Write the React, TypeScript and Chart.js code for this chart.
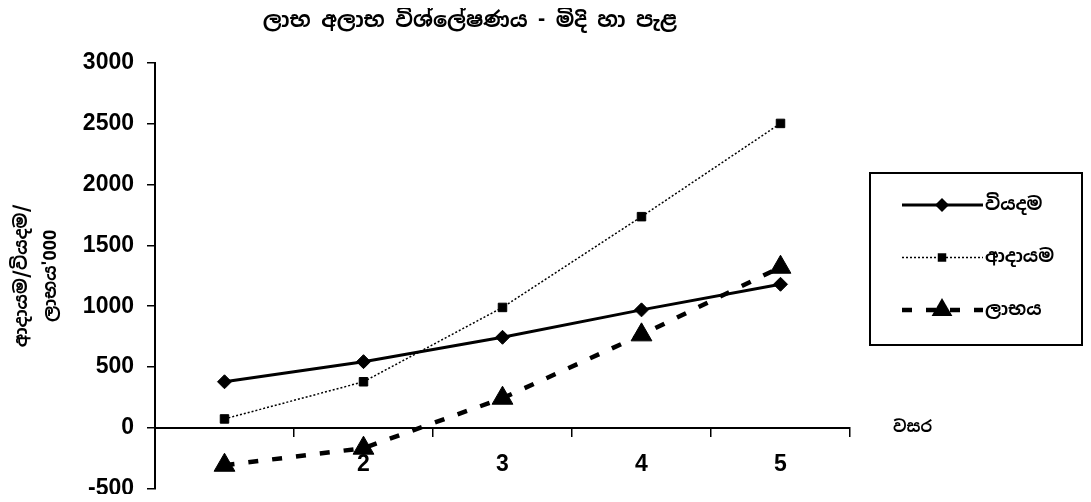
import React, { useEffect, useRef } from 'react';
import { Chart, registerables } from 'chart.js';

Chart.register(...registerables);

const TITLE = 'ලාභ අලාභ විශ්ලේෂණය - මිදි හා පැළ';
const Y_TITLE = ['ආදායම/වියදම/', "ලාභය'000"];
const X_TITLE = 'වසර';
const YEARS = ['1', '2', '3', '4', '5'];
const SERIES_LABELS = ['වියදම', 'ආදායම', 'ලාභය'];
const EXPENSES = [380, 545, 745, 970, 1180];
const INCOME = [75, 380, 990, 1735, 2500];
const PROFIT = [-305, -165, 245, 765, 1320];
const Y_MIN = -500;
const Y_MAX = 3000;
const Y_STEP = 500;

const SIN_FONT = "'Noto Sans Sinhala', 'Noto Serif Sinhala', 'Iskoola Pota', 'Noto Sans', sans-serif";
const NUM_FONT = "'Liberation Sans', Arial, sans-serif";

function drawMarker(ctx: CanvasRenderingContext2D, style: string, x: number, y: number, r: number) {
  ctx.beginPath();
  if (style === 'rectRot') {
    ctx.moveTo(x, y - r);
    ctx.lineTo(x + r, y);
    ctx.lineTo(x, y + r);
    ctx.lineTo(x - r, y);
  } else if (style === 'rect') {
    const s = r * Math.SQRT1_2;
    ctx.rect(x - s, y - s, 2 * s, 2 * s);
  } else {
    ctx.moveTo(x, y - r);
    ctx.lineTo(x + r * Math.sin(Math.PI / 3), y + r / 2);
    ctx.lineTo(x - r * Math.sin(Math.PI / 3), y + r / 2);
  }
  ctx.closePath();
  ctx.fill();
}

const overlayPlugin = {
  id: 'overlay',
  afterDraw(chart: any) {
    const { ctx, chartArea, scales } = chart;
    ctx.save();
    ctx.fillStyle = '#000';
    ctx.strokeStyle = '#000';

    // main title
    ctx.font = `bold 21px ${SIN_FONT}`;
    ctx.textAlign = 'center';
    ctx.textBaseline = 'middle';
    ctx.fillText(TITLE, chartArea.left + chartArea.width * 0.453, 13);

    // x axis title, to the right of the axis at the zero line
    const zeroY = scales.y.getPixelForValue(0);
    ctx.font = `bold 16px ${SIN_FONT}`;
    ctx.textAlign = 'left';
    ctx.fillText(X_TITLE, chartArea.right + 43, zeroY);

    // legend box
    const bx = chartArea.right + 20;
    const by = 165;
    const bw = 212;
    const bh = 172;
    ctx.lineWidth = 2;
    ctx.setLineDash([]);
    ctx.strokeRect(bx, by, bw, bh);

    const rows = [32, 84.5, 137];
    chart.data.datasets.forEach((ds: any, i: number) => {
      const y = by + rows[i];
      const x0 = bx + 32;
      const x1 = bx + 113;
      ctx.save();
      ctx.lineWidth = ds.borderWidth;
      ctx.setLineDash(ds.borderDash || []);
      ctx.beginPath();
      ctx.moveTo(x0, y);
      ctx.lineTo(x1, y);
      ctx.stroke();
      ctx.restore();
      drawMarker(ctx, ds.pointStyle, bx + 72, y, ds.pointRadius);
      ctx.font = `bold 18px ${SIN_FONT}`;
      ctx.textAlign = 'left';
      ctx.textBaseline = 'middle';
      ctx.fillText(ds.label, x1 + 2, y);
    });
    ctx.restore();
  },
};

export default function App() {
  const canvasRef = useRef<HTMLCanvasElement | null>(null);

  useEffect(() => {
    if (!canvasRef.current) return;
    const chart = new Chart(canvasRef.current, {
      type: 'line',
      data: {
        labels: YEARS,
        datasets: [
          {
            label: SERIES_LABELS[0],
            data: EXPENSES,
            borderColor: '#000',
            backgroundColor: '#000',
            pointBackgroundColor: '#000',
            pointBorderColor: '#000',
            borderWidth: 3,
            pointStyle: 'rectRot',
            pointRadius: 7,
            pointBorderWidth: 1,
            tension: 0,
          },
          {
            label: SERIES_LABELS[1],
            data: INCOME,
            borderColor: '#000',
            backgroundColor: '#000',
            pointBackgroundColor: '#000',
            pointBorderColor: '#000',
            borderWidth: 1.5,
            borderDash: [2, 2],
            pointStyle: 'rect',
            pointRadius: 6,
            pointBorderWidth: 1,
            tension: 0,
          },
          {
            label: SERIES_LABELS[2],
            data: PROFIT,
            borderColor: '#000',
            backgroundColor: '#000',
            pointBackgroundColor: '#000',
            pointBorderColor: '#000',
            borderWidth: 4.5,
            borderDash: [10, 14],
            pointStyle: 'triangle',
            pointRadius: 12,
            pointBorderWidth: 1,
            tension: 0,
          },
        ],
      },
      options: {
        animation: false,
        responsive: false,
        maintainAspectRatio: false,
        layout: { padding: { left: 0, right: 233, top: 54.5, bottom: 12 } },
        plugins: {
          legend: { display: false },
          title: { display: false },
          tooltip: { enabled: false },
        },
        scales: {
          x: {
            type: 'category',
            position: { y: 0 } as any,
            offset: true,
            grid: { offset: true, drawOnChartArea: false, tickLength: 8, color: '#000', lineWidth: 1.5 },
            border: { color: '#000', width: 2 },
            ticks: {
              color: '#000',
              padding: 17,
              maxRotation: 0,
              autoSkip: false,
              font: { family: NUM_FONT, size: 23, weight: 'bold', lineHeight: 1 },
              callback: (_v: any, i: number) => (i === 0 ? '' : YEARS[i]),
            },
            afterFit: (s: any) => {
              s.paddingLeft = 0;
              s.paddingRight = 0;
            },
          },
          y: {
            min: Y_MIN,
            max: Y_MAX,
            grid: { drawOnChartArea: false, tickLength: 8, color: '#000', lineWidth: 1.5 },
            border: { color: '#000', width: 2 },
            ticks: {
              stepSize: Y_STEP,
              color: '#000',
              padding: 13,
              font: { family: NUM_FONT, size: 23, weight: 'bold' },
              callback: (v: any) => String(v),
            },
            title: {
              display: true,
              text: Y_TITLE,
              color: '#000',
              padding: { top: 0, bottom: 0 },
              font: { family: SIN_FONT, size: 18, weight: 'bold', lineHeight: 1.6 },
            },
            afterFit: (s: any) => {
              s.width = 147;
              s.paddingTop = 0;
              s.paddingBottom = 0;
            },
          },
        },
      },
      plugins: [overlayPlugin],
    });
    return () => chart.destroy();
  }, []);

  return (
    <div style={{ width: 1075, height: 494, marginBottom: -8 }}>
      <canvas ref={canvasRef} width={1075} height={494} style={{ width: 1075, height: 494, display: 'block' }} />
    </div>
  );
}
